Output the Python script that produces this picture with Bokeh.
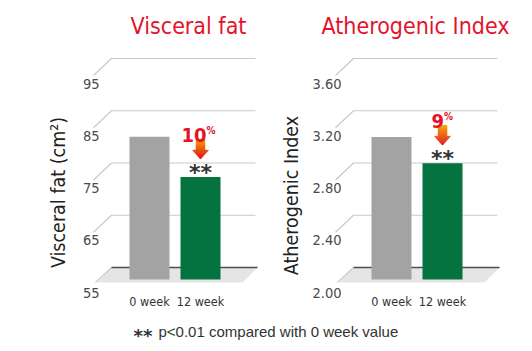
import numpy as np
from bokeh.plotting import figure
from bokeh.models import Range1d, Label
from bokeh.core.properties import value
from bokeh.embed import file_html
from bokeh.resources import INLINE

# ---------------- data ----------------
categories = ["0 week", "12 week"]
visceral_fat = [82.3, 74.6]
atherogenic_index = [3.09, 2.89]
visceral_ticks = [55, 65, 75, 85, 95]
athero_ticks = [2.0, 2.4, 2.8, 3.2, 3.6]
visceral_tick_labels = ["55", "65", "75", "85", "95"]
athero_tick_labels = ["2.00", "2.40", "2.80", "3.20", "3.60"]
panel_titles = ["Visceral fat", "Atherogenic Index"]
axis_titles = ["Visceral fat (cm²)", "Atherogenic Index"]
reductions = ["10", "9"]
significance = "**"
footnote_text = "p<0.01 compared with 0 week value"

# ---------------- style / layout ----------------
W, H = 532, 351
NARROW = "DejaVu Sans Condensed"
REGULAR = "Liberation Sans"
RED = "#e3132b"
BAR_COLORS = ["#a3a3a3", "#05733f"]
GRID = "#c9c9c9"
FLOOR_LINE = "#4d4d4d"
FLOOR_FILL = "#e5e5e5"
TICK = "#4a4a4a"
DARK = "#231f20"
ORANGE = np.array([0xf5, 0xa3, 0x00])
ARROW_RED = np.array([0xe6, 0x16, 0x1c])

BASE_PX = 279      # pixel row of bar bottoms
STEP_PX = 52.25    # pixels per tick step
CAT_PX = 51        # pixels between bar centres
BAR_PX = 40
DEPTH_PX = 12      # bar plane -> back wall

panels = [
    dict(name="default", c0=149, values=visceral_fat, ticks=visceral_ticks,
         labels=visceral_tick_labels, title=panel_titles[0], title_cx=188,
         ytitle=axis_titles[0], ylab_cx=58, ylab_cy=192, red=reductions[0]),
    dict(name="r", c0=391, values=atherogenic_index, ticks=athero_ticks,
         labels=athero_tick_labels, title=panel_titles[1], title_cx=415,
         ytitle=axis_titles[1], ylab_cx=291, ylab_cy=195, red=reductions[1]),
]

ranges = []
for pn in panels:
    t = pn["ticks"]
    u = (t[1] - t[0]) / STEP_PX
    base = t[0]
    xr = Range1d(-pn["c0"] / CAT_PX, (W - pn["c0"]) / CAT_PX)
    yr = Range1d(base - (H - BASE_PX) * u, base + BASE_PX * u)
    pn["u"] = u
    ranges.append((xr, yr))

p = figure(width=W, height=H, output_backend="svg", toolbar_location=None,
           x_axis_type=None, y_axis_type=None, min_border=0,
           x_range=ranges[0][0], y_range=ranges[0][1])
p.extra_x_ranges = {"r": ranges[1][0]}
p.extra_y_ranges = {"r": ranges[1][1]}
p.outline_line_color = None
p.background_fill_color = "white"
p.border_fill_color = "white"

ux = 1.0 / CAT_PX
for k, pn in enumerate(panels):
    kw = dict(x_range_name=pn["name"], y_range_name=pn["name"])
    u = pn["u"]
    ticks = pn["ticks"]
    vals = pn["values"]
    xpos = list(range(len(categories)))
    base = ticks[0]
    back = [t + DEPTH_PX * u for t in ticks]
    xs0 = -(BAR_PX / 2 + 18) * ux
    xe = xpos[-1] + (BAR_PX / 2 + 35) * ux
    xeb = xpos[-1] + (BAR_PX / 2 + 37) * ux

    # floor
    b0 = back[0]
    p.patch([xs0, xeb, xeb - 15 * ux, xs0 - 14 * ux],
            [b0, b0, b0 - 15 * u, b0 - 15 * u],
            fill_color=FLOOR_FILL, line_color=None, **kw)
    # grid lines with perspective diagonals
    gx = [[xs0 - 18 * ux, xs0, xe] for _ in back[1:]]
    gy = [[b - 17 * u, b, b] for b in back[1:]]
    p.multi_line(gx, gy, line_color=GRID, line_width=1.2, **kw)
    p.line([xs0 - 16 * ux, xs0], [b0 - 15 * u, b0], line_color=GRID, line_width=1.2, **kw)
    p.line([xs0, xeb], [b0, b0], line_color=FLOOR_LINE, line_width=1.3, **kw)

    # bars
    p.vbar(x=xpos, width=BAR_PX * ux, bottom=base, top=vals,
           fill_color=BAR_COLORS, line_color=None, **kw)

    # tick labels
    p.text(x=[-50 * ux] * len(ticks), y=[t - 13 * u for t in ticks], text=pn["labels"],
           text_align="right", text_baseline="middle", text_font=value(NARROW),
           text_font_size="14.5px", text_color=TICK, **kw)
    # category labels
    p.text(x=xpos, y=[base] * len(xpos), text=categories, y_offset=22,
           text_align="center", text_baseline="middle", text_font=value(NARROW),
           text_font_size="12.5px", text_color="#333333", **kw)

    # significance marks and reduction arrow on the last bar
    top = vals[-1]
    xi = xpos[-1]
    p.text(x=[xi], y=[top + 8 * u], text=[significance], y_offset=3,
           text_align="center", text_baseline="middle", text_font=value("DejaVu Sans"),
           text_font_style="bold", text_font_size="22px", text_color="#333333", **kw)

    n = 20
    hs = np.linspace(38, 18, n + 1)
    xs_list, ys_list, cols = [], [], []
    for i in range(n):
        h1, h2 = hs[i], hs[i + 1]
        if h2 >= 27:
            w1 = w2 = 4.5
        else:
            w2 = 8.0 * (h2 - 18) / 9.0
            w1 = 8.0 * (min(h1, 27) - 18) / 9.0
        xs_list.append([xi - w1 * ux, xi + w1 * ux, xi + w2 * ux, xi - w2 * ux])
        ys_list.append([top + h1 * u, top + h1 * u, top + h2 * u, top + h2 * u])
        f = i / (n - 1)
        c = (ORANGE * (1 - f) + ARROW_RED * f).astype(int)
        cols.append("#%02x%02x%02x" % tuple(c))
    p.patches(xs_list, ys_list, fill_color=cols, line_color=cols, line_width=0.5, **kw)

    off = (len(pn["red"]) * 9.0 - 10) / 2 + 2
    p.text(x=[xi], y=[top + 42 * u], text=[pn["red"]], x_offset=off,
           text_align="right", text_baseline="alphabetic", text_font=value(NARROW),
           text_font_style="bold", text_font_size="20px", text_color=RED, **kw)
    p.text(x=[xi], y=[top + 47 * u], text=["%"], x_offset=off,
           text_align="left", text_baseline="alphabetic", text_font=value(NARROW),
           text_font_style="bold", text_font_size="10px", text_color=RED, **kw)

    # titles
    p.add_layout(Label(x=pn["title_cx"], y=H - 25, x_units="screen", y_units="screen",
                       text=pn["title"], text_align="center", text_baseline="middle",
                       text_font=NARROW, text_font_size="23px", text_color=RED))
    p.add_layout(Label(x=pn["ylab_cx"], y=H - pn["ylab_cy"], x_units="screen", y_units="screen",
                       text=pn["ytitle"], angle=np.pi / 2, text_align="center",
                       text_baseline="middle", text_font=NARROW, text_font_size="19.5px",
                       text_color=DARK))

# footnote
p.add_layout(Label(x=133, y=H - 331, x_units="screen", y_units="screen", text=significance,
                   text_align="left", text_baseline="middle", text_font="DejaVu Sans",
                   text_font_style="bold", text_font_size="18px", text_color="#333333",
                   y_offset=-4))
p.add_layout(Label(x=158, y=H - 331, x_units="screen", y_units="screen", text=footnote_text,
                   text_align="left", text_baseline="middle", text_font=REGULAR,
                   text_font_size="15px", text_color="#333333"))

open("out.html", "w").write(file_html(p, INLINE))
